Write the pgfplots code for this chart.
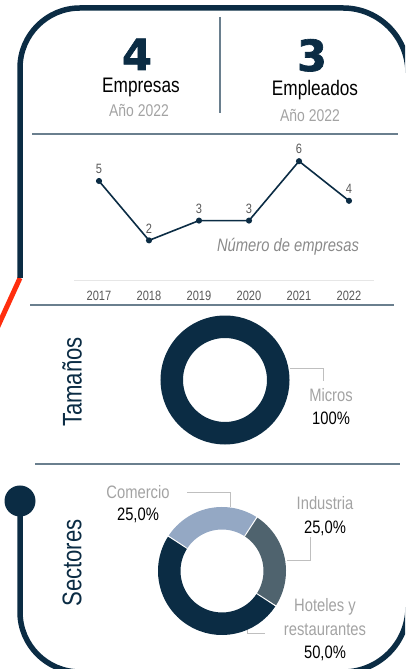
\documentclass[border=0pt]{standalone}
\usepackage{fontspec}
\setmainfont{Liberation Sans}[FakeStretch=0.82]
\newfontfamily\numfont{DejaVu Sans}[BoldFeatures={FakeBold=1.5}]
\usepackage{pgfplots}
\pgfplotsset{compat=1.18}
\usepackage{pgfplotstable}
\definecolor{navy}{HTML}{0B2C44}
\definecolor{sepcol}{HTML}{6A7F8E}
\definecolor{lblgray}{HTML}{A3A3A3}
\definecolor{tickcol}{HTML}{595959}
\definecolor{gridcol}{HTML}{E6E6E6}
\definecolor{leadcol}{HTML}{BFBFBF}
\definecolor{comcol}{HTML}{94A8C4}
\definecolor{indcol}{HTML}{4F636E}
\definecolor{redcol}{HTML}{FF2E0E}
\newcommand\fs[1]{\fontsize{#1bp}{#1bp}\selectfont}
\pgfplotstableread{
x year val
0 2017 5
1 2018 2
2 2019 3
3 2020 3
4 2021 6
5 2022 4
}\empresas
% sector shares (percent)
\def\vCom{25}
\def\vInd{25}
\def\vHot{50}
\def\vMic{100}
\begin{document}
\begin{tikzpicture}[x=1bp,y=1bp]
\path[use as bounding box] (0,0) rectangle (405,669);
\clip (0,0) rectangle (405,669);
% frame
\draw[redcol, line width=5bp] (20,391) -- (-6,334);
\draw[navy, line width=5.5bp] (20,391) -- (20,601) arc[start angle=180, end angle=90, radius=60]
  -- (343,661) arc[start angle=90, end angle=0, radius=65]
  -- (408,62) arc[start angle=0, end angle=-90, radius=65]
  -- (80,-3) arc[start angle=270, end angle=180, radius=60] -- (20,168);
\fill[navy] (20,168) circle[radius=15.5];
% header
\node[anchor=base, text=navy, inner sep=0] at (137,599) {\numfont\bfseries\fs{43}4};
\node[anchor=base, inner sep=0] at (141,576) {\fs{21}Empresas};
\node[anchor=base, inner sep=0, text=lblgray] at (139,552) {\fs{17}Año 2022};
\node[anchor=base, text=navy, inner sep=0] at (312,598) {\numfont\bfseries\fs{43}3};
\node[anchor=base, inner sep=0] at (315,573) {\fs{21}Empleados};
\node[anchor=base, inner sep=0, text=lblgray] at (310,547) {\fs{17}Año 2022};
\draw[sepcol, line width=1.5bp] (220,652) -- (220,556);
\draw[sepcol, line width=1.5bp] (32,535) -- (398,535);
\draw[sepcol, line width=1.5bp] (30,364) -- (394,364);
\draw[sepcol, line width=1.5bp] (35,205) -- (400,205);
% line chart
\begin{axis}[at={(74bp,389bp)}, anchor=south west, scale only axis,
  width=300bp, height=138.6bp, xmin=-0.5, xmax=5.5, ymin=0, ymax=7,
  axis x line*=bottom, axis y line=none,
  x axis line style={draw=gridcol, line width=0.8bp, -},
  xtick={0,...,5}, xticklabels={2017,2018,2019,2020,2021,2022},
  major tick length=0, ytick=\empty,
  xticklabel style={font=\fs{13.5}, text=tickcol, yshift=-7.5bp},
  /pgf/number format/assume math mode=true,
  clip=false]
\addplot[navy, line width=1.6bp, mark=*, mark size=2.2bp,
  nodes near coords, nodes near coords style={font=\fs{13.5}, text=tickcol, yshift=3bp}]
  table[x=x, y=val] {\empresas};
\end{axis}
\node[text=lblgray!85!black, font=\itshape\fs{18}] at (288,422) {Número de empresas};
% angles from data
\pgfmathsetmacro{\sA}{90}
\pgfmathsetmacro{\sB}{90-3.6*\vMic-2}
\pgfmathsetmacro{\aA}{147}
\pgfmathsetmacro{\aB}{\aA-3.6*\vCom}
\pgfmathsetmacro{\aC}{\aB-3.6*\vInd}
\pgfmathsetmacro{\aD}{\aC-3.6*\vHot}
% Tamaños donut
\node[rotate=90, text=navy, font=\fs{27}] at (72,287) {Tamaños};
\begin{axis}[at={(161bp,225bp)}, anchor=south west, scale only axis, width=128bp, height=128bp,
  xmin=-1, xmax=1, ymin=-1, ymax=1, hide axis, clip=false]
\draw[navy, line width=22.5bp] ([shift={(\sA:53.25bp)}]axis cs:0,0) arc[start angle=\sA, end angle=\sB, radius=53.25bp];
\end{axis}
\draw[leadcol, line width=0.8bp] (290,301) -- (323,301) -- (323,288);
\node[text=lblgray, font=\fs{18}] at (331,274) {Micros};
\node[font=\fs{18}] at (331,251) {100\%};
% Sectores donut
\node[rotate=90, text=navy, font=\fs{27}] at (72,106) {Sectores};
\begin{axis}[at={(158bp,34bp)}, anchor=south west, scale only axis, width=128bp, height=128bp,
  xmin=-1, xmax=1, ymin=-1, ymax=1, hide axis, clip=false]
\draw[comcol, line width=22.5bp] ([shift={(\aA:52.75bp)}]axis cs:0,0) arc[start angle=\aA, end angle=\aB, radius=52.75bp];
\draw[indcol, line width=22.5bp] ([shift={(\aB:52.75bp)}]axis cs:0,0) arc[start angle=\aB, end angle=\aC, radius=52.75bp];
\draw[navy, line width=22.5bp] ([shift={(\aC:52.75bp)}]axis cs:0,0) arc[start angle=\aC, end angle=\aD, radius=52.75bp];
\draw[white, line width=1bp] ([shift={(\aA:41bp)}]axis cs:0,0) -- ([shift={(\aA:64.5bp)}]axis cs:0,0);
\draw[white, line width=1bp] ([shift={(\aB:41bp)}]axis cs:0,0) -- ([shift={(\aB:64.5bp)}]axis cs:0,0);
\draw[white, line width=1bp] ([shift={(\aC:41bp)}]axis cs:0,0) -- ([shift={(\aC:64.5bp)}]axis cs:0,0);
\end{axis}
\draw[leadcol, line width=0.8bp] (187,177) -- (230,177) -- (230,162);
\node[text=lblgray, font=\fs{18}] at (138,177) {Comercio};
\node[font=\fs{18}] at (138,154) {25,0\%};
\draw[leadcol, line width=0.8bp] (287,109) -- (310,109) -- (310,132);
\node[text=lblgray, font=\fs{18}] at (325,166) {Industria};
\node[font=\fs{18}] at (325,141) {25,0\%};
\draw[leadcol, line width=0.8bp] (247,39) -- (247,36) -- (265,36);
\node[text=lblgray, font=\fs{18}] at (325,62) {Hoteles y};
\node[text=lblgray, font=\fs{18}] at (325,39) {restaurantes};
\node[font=\fs{18}] at (325,16) {50,0\%};
\end{tikzpicture}
\end{document}
